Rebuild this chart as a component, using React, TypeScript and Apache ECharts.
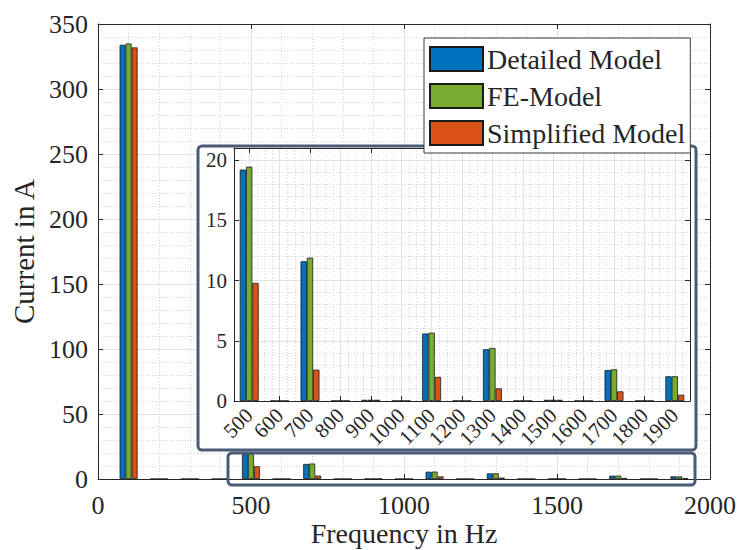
import React, { useEffect, useRef } from "react";
import * as echarts from "echarts";

// Harmonic frequencies (Hz) and the current amplitude (A) of each model
const FREQS = [100, 200, 300, 400, 500, 600, 700, 800, 900, 1000, 1100, 1200, 1300, 1400, 1500, 1600, 1700, 1800, 1900];
const DETAILED = [334, 0.02, 0.02, 0.02, 19.2, 0.02, 11.6, 0.02, 0.1, 0.02, 5.6, 0.02, 4.3, 0.02, 0.1, 0.02, 2.57, 0.02, 2.05];
const FE_MODEL = [335, 0.02, 0.02, 0.02, 19.45, 0.02, 11.9, 0.02, 0.1, 0.02, 5.67, 0.02, 4.4, 0.02, 0.1, 0.02, 2.63, 0.02, 2.05];
const SIMPLIFIED = [332, 0.02, 0.02, 0.02, 9.8, 0.02, 2.6, 0.02, 0.1, 0.02, 2.0, 0.02, 1.05, 0.02, 0.1, 0.02, 0.8, 0.02, 0.52];

const SERIES_NAMES = ["Detailed Model", "FE-Model", "Simplified Model"];
const SERIES_COLORS = ["#0072BD", "#77AC30", "#D95319"];

// Zoomed view starts at 500 Hz
const INSET_START = 500;

const FONT = "Liberation Serif";
const INK = "#262626";
const FRAME = "#4b5a78";

export default function App() {
  const ref = useRef<HTMLDivElement>(null);

  useEffect(() => {
    if (!ref.current) return;
    const chart = echarts.init(ref.current, null, { renderer: "svg" });

    const values = [DETAILED, FE_MODEL, SIMPLIFIED];
    const insetIdx = FREQS.map((f, i) => (f >= INSET_START ? i : -1)).filter((i) => i >= 0);
    const insetCats = insetIdx.map((i) => String(FREQS[i]));
    // fine grid helper: 4 sub-steps per category
    const fineCats = Array.from({ length: insetCats.length * 4 + 1 }, (_, i) => "g" + i);

    const edge = { borderColor: "#1a1a1a", borderWidth: 0.8 };

    const mainSeries = values.map((vals, s) => ({
      type: "bar",
      name: SERIES_NAMES[s],
      xAxisIndex: 0,
      yAxisIndex: 0,
      barWidth: 6,
      barGap: "0%",
      z: 2,
      itemStyle: { color: SERIES_COLORS[s], ...edge },
      data: FREQS.map((f, i) => [f, vals[i]]),
    }));

    const insetSeries = values.map((vals, s) => ({
      type: "bar",
      name: SERIES_NAMES[s],
      xAxisIndex: 2,
      yAxisIndex: 2,
      barWidth: 6.3,
      barGap: "0%",
      z: 8,
      itemStyle: { color: SERIES_COLORS[s], ...edge },
      data: insetIdx.map((i) => vals[i]),
    }));

    const majorLine = { show: true, lineStyle: { color: "#e2e2e2", width: 1 } };
    const minorLine = { show: true, lineStyle: { color: "#d4d4d4", width: 1, type: [1, 2] } };
    const tickIn = { show: true, inside: true, length: 5, lineStyle: { color: INK } };
    const axisLine = { show: true, onZero: false, lineStyle: { color: INK, width: 1 } };
    const plain = (v: number) => String(v);

    chart.setOption({
      animation: false,
      backgroundColor: "#fff",
      textStyle: { fontFamily: FONT },
      grid: [
        { left: 98, top: 24, width: 612, height: 455, containLabel: false, outerBoundsMode: "none", z: 0 },
        {
          left: 234,
          top: 148,
          width: 456,
          height: 253,
          containLabel: false,
          outerBoundsMode: "none",
          show: true,
          backgroundColor: "#fff",
          borderWidth: 0,
          z: 6,
        },
      ],
      legend: {
        orient: "vertical",
        left: 424,
        top: 38,
        data: SERIES_NAMES,
        itemWidth: 53,
        itemHeight: 24,
        itemGap: 9,
        padding: [7, 5, 6, 5],
        backgroundColor: "#fff",
        borderColor: "#3a3a3a",
        borderWidth: 1,
        selectedMode: false,
        icon: "rect",
        z: 10,
        textStyle: { fontFamily: FONT, fontSize: 28, color: INK, padding: [0, 0, 0, -1] },
      },
      xAxis: [
        {
          type: "value",
          gridIndex: 0,
          position: "bottom",
          min: 0,
          max: 2000,
          interval: 500,
          z: 1,
          axisLine,
          axisTick: tickIn,
          axisLabel: { fontFamily: FONT, fontSize: 26, color: INK, margin: 13, formatter: plain },
          splitLine: majorLine,
          minorTick: { show: false, splitNumber: 5 },
          minorSplitLine: minorLine,
          name: "Frequency in Hz",
          nameLocation: "middle",
          nameGap: 40,
          nameMoveOverlap: false,
          nameTextStyle: { fontFamily: FONT, fontSize: 28, color: INK },
        },
        {
          type: "value",
          gridIndex: 0,
          position: "top",
          min: 0,
          max: 2000,
          interval: 500,
          z: 1,
          axisLine,
          axisTick: tickIn,
          axisLabel: { show: false },
          splitLine: { show: false },
        },
        {
          type: "category",
          gridIndex: 1,
          position: "bottom",
          data: insetCats,
          z: 7,
          axisLine,
          axisTick: { ...tickIn, alignWithLabel: true },
          axisLabel: { fontFamily: FONT, fontSize: 21, color: INK, rotate: 45, margin: 11, interval: 0 },
          splitLine: { show: false },
        },
        {
          type: "category",
          gridIndex: 1,
          position: "top",
          data: insetCats,
          z: 7,
          axisLine,
          axisTick: { ...tickIn, alignWithLabel: true },
          axisLabel: { show: false },
          splitLine: { show: false },
        },
        {
          type: "category",
          gridIndex: 1,
          position: "bottom",
          data: fineCats,
          boundaryGap: false,
          z: 6.6,
          axisLine: { show: false },
          axisTick: { show: false },
          axisLabel: { show: false },
          splitLine: { ...majorLine, interval: (i: number) => i % 4 === 2 },
        },
        {
          type: "category",
          gridIndex: 1,
          position: "bottom",
          data: fineCats,
          boundaryGap: false,
          z: 6.5,
          axisLine: { show: false },
          axisTick: { show: false },
          axisLabel: { show: false },
          splitLine: { ...minorLine, interval: (i: number) => i % 4 !== 2 && i !== 0 && i !== fineCats.length - 1 },
        },
      ],
      yAxis: [
        {
          type: "value",
          gridIndex: 0,
          position: "left",
          min: 0,
          max: 350,
          interval: 50,
          z: 1,
          axisLine,
          axisTick: tickIn,
          axisLabel: { fontFamily: FONT, fontSize: 26, color: INK, margin: 10, formatter: plain },
          splitLine: majorLine,
          minorTick: { show: false, splitNumber: 5 },
          minorSplitLine: minorLine,
          name: "Current in A",
          nameLocation: "middle",
          nameGap: 60,
          nameMoveOverlap: false,
          nameTextStyle: { fontFamily: FONT, fontSize: 29, color: INK },
        },
        {
          type: "value",
          gridIndex: 0,
          position: "right",
          min: 0,
          max: 350,
          interval: 50,
          z: 1,
          axisLine,
          axisTick: tickIn,
          axisLabel: { show: false },
          splitLine: { show: false },
        },
        {
          type: "value",
          gridIndex: 1,
          position: "left",
          min: 0,
          max: 21,
          interval: 5,
          z: 7,
          axisLine,
          axisTick: tickIn,
          axisLabel: { fontFamily: FONT, fontSize: 21, color: INK, margin: 7, showMaxLabel: false },
          splitLine: majorLine,
          minorTick: { show: false, splitNumber: 5 },
          minorSplitLine: minorLine,
        },
        {
          type: "value",
          gridIndex: 1,
          position: "right",
          min: 0,
          max: 21,
          interval: 5,
          z: 7,
          axisLine,
          axisTick: tickIn,
          axisLabel: { show: false },
          splitLine: { show: false },
        },
      ],
      graphic: [
        {
          type: "rect",
          z: 5,
          shape: { x: 198, y: 146, width: 498, height: 304, r: 4 },
          style: { fill: "#fff", stroke: FRAME, lineWidth: 3 },
        },
        {
          type: "rect",
          z: 9,
          shape: { x: 228, y: 453, width: 467, height: 32, r: 4 },
          style: { fill: "none", stroke: FRAME, lineWidth: 3 },
        },
      ],
      series: [...mainSeries, ...insetSeries],
    });

    return () => chart.dispose();
  }, []);

  return <div ref={ref} style={{ position: "fixed", left: 0, top: 0, width: 740, height: 550 }} />;
}
